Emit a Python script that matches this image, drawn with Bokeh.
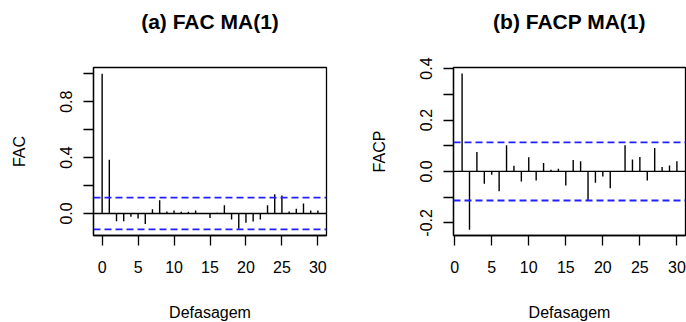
from bokeh.plotting import figure
from bokeh.layouts import row
from bokeh.models import Range1d, FixedTicker, Span, Title
from bokeh.embed import file_html
from bokeh.resources import INLINE

# ---- data ----
acf_lags = list(range(0, 31))
acf_vals = [1.0, 0.385, -0.055, -0.055, -0.024, -0.036, -0.076, 0.031, 0.095, 0.014,
            0.021, 0.012, 0.012, 0.021, 0.003, -0.033, 0.005, 0.059, -0.043, -0.110,
            -0.067, -0.057, -0.043, 0.059, 0.137, 0.128, 0.014, 0.033, 0.071, 0.021,
            0.021]
pacf_lags = list(range(1, 31))
pacf_vals = [0.381, -0.227, 0.076, -0.048, -0.013, -0.077, 0.102, 0.022, -0.039, 0.055,
             -0.035, 0.033, 0.007, 0.010, -0.055, 0.044, 0.040, -0.111, -0.044, -0.020,
             -0.065, 0.002, 0.102, 0.046, 0.056, -0.035, 0.091, 0.017, 0.023, 0.040]
conf = 0.113
x_ticks = [0, 5, 10, 15, 20, 25, 30]
acf_yticks = [0.0, 0.2, 0.4, 0.6, 0.8, 1.0]
acf_ylabels = {0.0: "0.0", 0.2: "", 0.4: "0.4", 0.6: "", 0.8: "0.8", 1.0: ""}
pacf_yticks = [-0.2, -0.1, 0.0, 0.1, 0.2, 0.3, 0.4]
pacf_ylabels = {-0.2: "-0.2", -0.1: "", 0.0: "0.0", 0.1: "", 0.2: "0.2", 0.3: "", 0.4: "0.4"}

FONT = "Liberation Sans"


def make_panel(title, ylabel, lags, vals, xr, yr, yticks, ylabels, fw, mbl, mbr):
    p = figure(frame_width=fw, frame_height=168, min_border_left=mbl, min_border_right=mbr,
               min_border_top=67, min_border_bottom=87, output_backend="svg",
               toolbar_location=None, x_range=Range1d(*xr), y_range=Range1d(*yr),
               background_fill_color="white", border_fill_color="white")
    p.grid.visible = False
    p.outline_line_color = "black"
    p.outline_line_width = 1.3
    p.title.text = title
    p.title.align = "center"
    p.title.text_font = FONT
    p.title.text_font_style = "bold"
    p.title.text_font_size = "21px"
    p.title.text_color = "black"
    p.title.standoff = 10
    # empty spacer between the title and the frame
    p.add_layout(Title(text=" ", text_font_size="1px", standoff=27), "above")

    for ax in (p.xaxis[0], p.yaxis[0]):
        ax.axis_line_color = "black"
        ax.axis_line_width = 1.3
        ax.major_tick_line_color = "black"
        ax.major_tick_line_width = 1.3
        ax.major_tick_out = 10
        ax.major_tick_in = 0
        ax.minor_tick_line_color = None
        ax.major_label_text_font = FONT
        ax.major_label_text_font_size = "16px"
        ax.major_label_text_color = "black"
        ax.axis_label_text_font = FONT
        ax.axis_label_text_font_size = "16px"
        ax.axis_label_text_font_style = "normal"
        ax.axis_label_text_color = "black"

    p.xaxis.ticker = FixedTicker(ticks=x_ticks)
    p.xaxis.axis_label = "Defasagem"
    p.xaxis.major_label_standoff = 15
    p.xaxis.axis_label_standoff = 28

    p.yaxis.ticker = FixedTicker(ticks=yticks)
    p.yaxis.major_label_overrides = ylabels
    p.yaxis.major_label_orientation = "vertical"
    p.yaxis.axis_label = ylabel
    p.yaxis.major_label_standoff = 11
    p.yaxis.axis_label_standoff = 30

    p.segment(x0=lags, y0=[0] * len(lags), x1=lags, y1=vals, line_color="black", line_width=1.4)
    p.add_layout(Span(location=0, dimension="width", line_color="black", line_width=1.3))
    for c in (conf, -conf):
        p.add_layout(Span(location=c, dimension="width", line_color="#2020ff",
                          line_width=1.8, line_dash="7 4"))
    return p


p1 = make_panel("(a) FAC MA(1)", "FAC", acf_lags, acf_vals, (-1.2, 31.2),
                (-0.1575, 1.0445), acf_yticks, acf_ylabels, 233, 93, 17)
p2 = make_panel("(b) FACP MA(1)", "FACP", pacf_lags, pacf_vals, (-0.16, 31.16),
                (-0.2492, 0.4042), pacf_yticks, pacf_ylabels, 232, 110, 1)

layout = row(p1, p2)
open("out.html", "w").write(file_html(layout, INLINE))
